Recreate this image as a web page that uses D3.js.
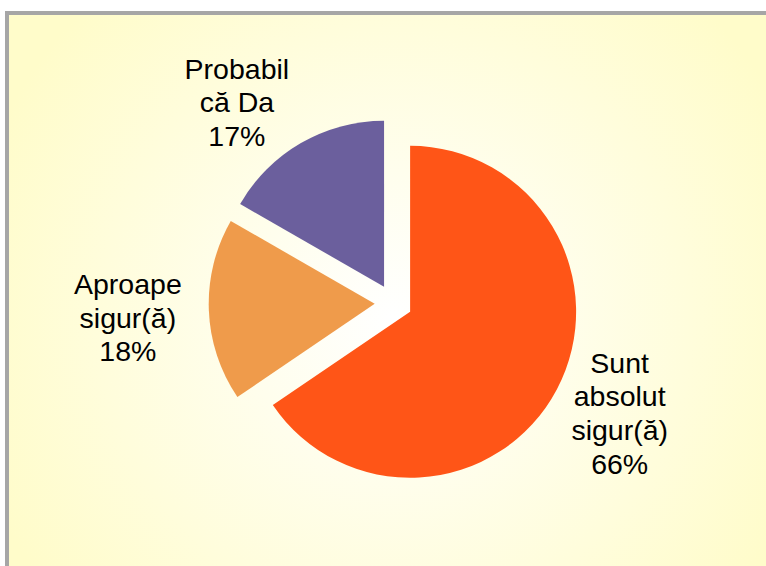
<!DOCTYPE html>
<meta charset="utf-8">
<html>
<style>
  body { margin: 0; background: #fff; }
</style>
<script src="https://d3js.org/d3.v7.min.js"></script>
<div id="pie"></div>
<script>

// data
var categories = ["Sunt absolut sigur(ă)", "Aproape sigur(ă)", "Probabil că Da"];
var labelLines = [["Sunt", "absolut", "sigur(ă)"], ["Aproape", "sigur(ă)"], ["Probabil", "că Da"]];
var values = [65.5, 17.8, 16.7];
var colors = ["#FF5517", "#EF9B4B", "#6B5F9D"];

// layout
var width = 766,
    height = 566,
    cx = 393.5,
    cy = 303,
    radius = 166,
    explode = 18.8,
    labelRadius = radius + 70,
    fontSize = 28.5,
    lineHeight = 33.6;

// label nudges (dx, dy) from the outer point of each slice
var labelNudge = [[1, -9], [-11, 5], [-29, 20]];

var svg = d3.select("#pie")
  .append("svg")
    .attr("width", width)
    .attr("height", height);

var defs = svg.append("defs");
var grad = defs.append("radialGradient")
    .attr("id", "bg")
    .attr("gradientUnits", "userSpaceOnUse")
    .attr("cx", 395).attr("cy", 320).attr("r", 440);
grad.append("stop").attr("offset", "0%").attr("stop-color", "#FFFFFF");
grad.append("stop").attr("offset", "100%").attr("stop-color", "#FFFCCA");

// frame
svg.append("rect")
    .attr("x", 7)
    .attr("y", 13)
    .attr("width", 800)
    .attr("height", 600)
    .attr("fill", "url(#bg)")
    .attr("stroke", "#A6A6A6")
    .attr("stroke-width", 4);

var pie = d3.pie().sort(null).value(function(d) { return d; });
var arcs = pie(values);

var arc = d3.arc().innerRadius(0).outerRadius(radius);

function dir(d) {
  var a = (d.startAngle + d.endAngle) / 2;
  return [Math.sin(a), -Math.cos(a)];
}

var g = svg.append("g").attr("transform", "translate(" + cx + "," + cy + ")");

g.selectAll("path")
  .data(arcs)
  .enter().append("path")
    .attr("d", arc)
    .attr("fill", function(d, i) { return colors[i]; })
    .attr("transform", function(d) {
      var v = dir(d);
      return "translate(" + (v[0] * explode) + "," + (v[1] * explode) + ")";
    });

// labels
var labels = g.selectAll("text.lbl")
  .data(arcs)
  .enter().append("text")
    .attr("class", "lbl")
    .attr("text-anchor", "middle")
    .style("font-family", "'Liberation Sans', Arial, sans-serif")
    .style("font-size", fontSize + "px")
    .attr("fill", "#000");

labels.each(function(d, i) {
  var v = dir(d);
  var x = v[0] * (explode + labelRadius) + labelNudge[i][0];
  var y = v[1] * (explode + labelRadius) + labelNudge[i][1];
  var lines = labelLines[i].concat([Math.round(values[i]) + "%"]);
  var first = y + 10 - (lines.length - 1) / 2 * lineHeight;
  var t = d3.select(this);
  lines.forEach(function(s, k) {
    t.append("tspan")
      .attr("x", x)
      .attr("y", first + k * lineHeight)
      .text(s);
  });
});

</script>
</html>
